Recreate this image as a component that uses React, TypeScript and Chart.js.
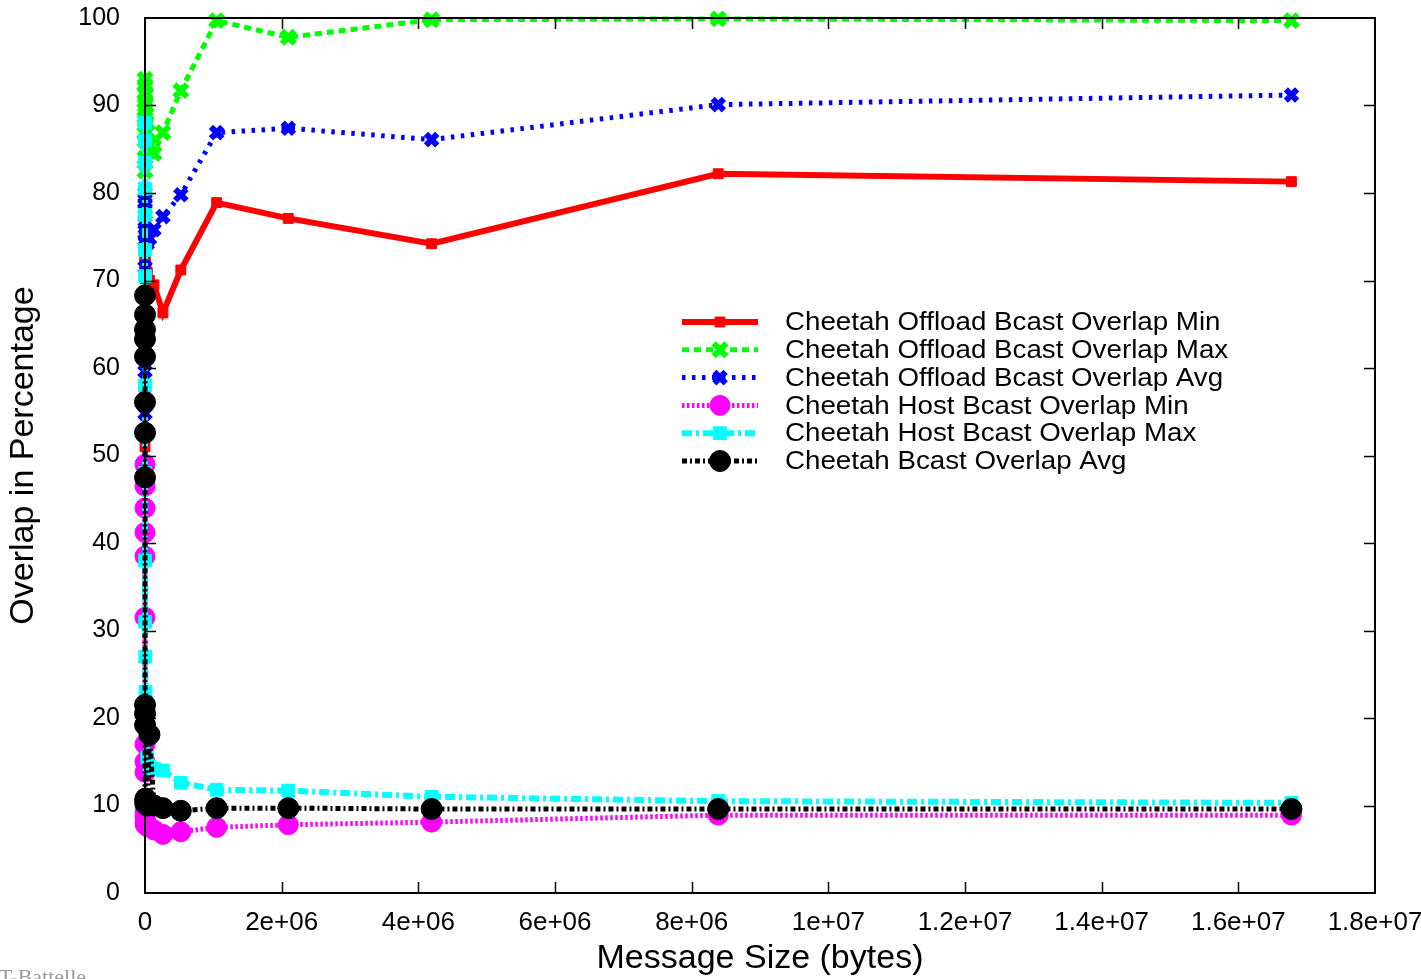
import React, { useEffect, useRef } from 'react';
import { Chart, registerables } from 'chart.js';

Chart.register(...registerables);

// ---------------- data ----------------
const messageSizes = [
  1, 2, 4, 8, 16, 32, 64, 128, 256, 512, 1024, 2048, 4096, 8192, 16384, 32768,
  65536, 131072, 262144, 524288, 1048576, 2097152, 4194304, 8388608, 16777216,
];

const offloadMin = [
  72.5, 71.8, 70.6, 57.5, 51.0, 63.0, 70.2, 71.0, 72.0, 71.5, 70.8, 72.8, 71.2,
  70.4, 71.6, 70.9, 70.0, 69.5, 66.3, 71.2, 78.9, 77.1, 74.2, 82.2, 81.3,
];

const offloadMax = [
  82.5, 84.0, 86.0, 88.5, 90.5, 92.3, 93.0, 91.5, 89.5, 87.8, 86.8, 88.2, 90.0,
  91.2, 89.0, 87.0, 85.5, 84.5, 86.9, 91.7, 99.7, 97.8, 99.8, 99.9, 99.7,
];

const offloadAvg = [
  54.8, 59.6, 64.0, 68.0, 71.5, 74.6, 76.5, 78.8, 80.0, 79.4, 78.2, 76.8, 75.2,
  74.3, 75.0, 74.2, 74.8, 75.8, 77.3, 79.8, 86.9, 87.4, 86.1, 90.1, 91.2,
];

const hostMin = [
  49.0, 46.5, 44.0, 41.2, 38.5, 31.5, 17.0, 15.0, 13.8, 9.2, 8.6, 8.0, 7.8, 8.2,
  8.0, 7.6, 7.5, 7.2, 6.7, 7.0, 7.5, 7.8, 8.1, 8.9, 8.9,
];

const hostMax = [
  88.0, 86.0, 83.5, 80.5, 77.5, 73.5, 70.5, 66.0, 58.0, 48.0, 38.0, 31.0, 27.0,
  23.0, 18.5, 15.5, 14.4, 14.2, 14.0, 12.6, 11.8, 11.7, 11.0, 10.5, 10.3,
];

const bcastAvg = [
  68.3, 66.1, 64.4, 63.3, 61.3, 56.1, 52.6, 47.5, 21.5, 20.5, 19.2, 10.6, 10.2,
  10.8, 10.3, 10.0, 18.1, 10.0, 9.7, 9.4, 9.7, 9.7, 9.6, 9.6, 9.6,
];

const seriesLabels = [
  'Cheetah Offload Bcast Overlap Min',
  'Cheetah Offload Bcast Overlap Max',
  'Cheetah Offload Bcast Overlap Avg',
  'Cheetah Host Bcast Overlap Min',
  'Cheetah Host Bcast Overlap Max',
  'Cheetah Bcast Overlap Avg',
];

const xTickLabels = [
  '0', '2e+06', '4e+06', '6e+06', '8e+06', '1e+07', '1.2e+07', '1.4e+07', '1.6e+07', '1.8e+07',
];
const yTickLabels = ['0', '10', '20', '30', '40', '50', '60', '70', '80', '90', '100'];

const xTitle = 'Message Size (bytes)';
const yTitle = 'Overlap in Percentage';
const footerText = 'UT-Battelle';

// ---------------- styles ----------------
const FONT = '"Liberation Sans", Arial, Helvetica, sans-serif';

type Marker = 'rect' | 'circle' | 'crossRot';
interface SeriesStyle {
  color: string;
  width: number;
  dash: number[];
  marker: Marker;
  radius: number;
  markerBorder: number;
}

const seriesStyles: SeriesStyle[] = [
  { color: '#ff0000', width: 6, dash: [], marker: 'rect', radius: 7, markerBorder: 1 },
  { color: '#00ff00', width: 5, dash: [7, 5], marker: 'crossRot', radius: 9, markerBorder: 6 },
  { color: '#0000ff', width: 5, dash: [3.5, 6.5], marker: 'crossRot', radius: 8, markerBorder: 6 },
  { color: '#ff00ff', width: 5, dash: [2.5, 2.5], marker: 'circle', radius: 10, markerBorder: 1 },
  { color: '#00ffff', width: 6, dash: [10, 4, 3, 4], marker: 'rect', radius: 9, markerBorder: 1 },
  { color: '#000000', width: 5, dash: [5, 3, 2, 3], marker: 'circle', radius: 10.5, markerBorder: 1 },
];

const seriesValues = [offloadMin, offloadMax, offloadAvg, hostMin, hostMax, bcastAvg];

function drawMarker(ctx: CanvasRenderingContext2D, s: SeriesStyle, x: number, y: number) {
  ctx.save();
  ctx.setLineDash([]);
  ctx.fillStyle = s.color;
  ctx.strokeStyle = s.color;
  ctx.lineWidth = s.markerBorder;
  ctx.beginPath();
  if (s.marker === 'rect') {
    const h = s.radius * Math.SQRT1_2;
    ctx.rect(x - h, y - h, 2 * h, 2 * h);
    ctx.fill();
    ctx.stroke();
  } else if (s.marker === 'circle') {
    ctx.arc(x, y, s.radius, 0, Math.PI * 2);
    ctx.fill();
    ctx.stroke();
  } else {
    const h = s.radius * Math.SQRT1_2;
    ctx.moveTo(x - h, y - h);
    ctx.lineTo(x + h, y + h);
    ctx.moveTo(x + h, y - h);
    ctx.lineTo(x - h, y + h);
    ctx.stroke();
  }
  ctx.restore();
}

const framePlugin = {
  id: 'gnuplotFrame',
  afterDatasetsDraw(chart: any) {
    const { ctx, chartArea } = chart;
    const { left, right, top, bottom } = chartArea;
    const xs = chart.scales.x;
    const ys = chart.scales.y;
    ctx.save();
    ctx.strokeStyle = '#000';
    ctx.lineWidth = 2;
    ctx.setLineDash([]);
    ctx.strokeRect(left, top, right - left, bottom - top);
    const tl = 11;
    ctx.lineWidth = 1.5;
    ctx.beginPath();
    xs.ticks.forEach((t: any) => {
      const px = Math.round(xs.getPixelForValue(t.value)) + 0.5;
      if (px <= left + 1 || px >= right - 1) return;
      ctx.moveTo(px, bottom);
      ctx.lineTo(px, bottom - tl);
      ctx.moveTo(px, top);
      ctx.lineTo(px, top + tl);
    });
    ys.ticks.forEach((t: any) => {
      const py = Math.round(ys.getPixelForValue(t.value)) + 0.5;
      if (py <= top + 1 || py >= bottom - 1) return;
      ctx.moveTo(left, py);
      ctx.lineTo(left + tl, py);
      ctx.moveTo(right, py);
      ctx.lineTo(right - tl, py);
    });
    ctx.stroke();
    ctx.restore();
  },
};

const legendPlugin = {
  id: 'gnuplotLegend',
  afterDraw(chart: any) {
    const { ctx } = chart;
    const x0 = 682;
    const x1 = 758;
    const xm = 720;
    const xt = 785;
    const y0 = 322;
    const dy = 27.8;
    ctx.save();
    seriesLabels.forEach((label, i) => {
      const s = seriesStyles[i];
      const y = y0 + i * dy;
      ctx.strokeStyle = s.color;
      ctx.lineWidth = s.width;
      ctx.setLineDash(s.dash);
      ctx.lineCap = 'butt';
      ctx.beginPath();
      ctx.moveTo(x0, y);
      ctx.lineTo(x1, y);
      ctx.stroke();
      drawMarker(ctx, s, xm, y);
      ctx.setLineDash([]);
      ctx.save();
      ctx.translate(xt, y + 1);
      ctx.scale(1.066, 1);
      ctx.fillStyle = '#000';
      ctx.font = `26px ${FONT}`;
      ctx.textAlign = 'left';
      ctx.textBaseline = 'middle';
      ctx.fillText(label, 0, 0);
      ctx.restore();
    });
    ctx.fillStyle = '#9a9a9a';
    ctx.font = '22px "Liberation Serif", "DejaVu Serif", serif';
    ctx.textAlign = 'left';
    ctx.textBaseline = 'alphabetic';
    ctx.fillText(footerText, -17, 984);
    ctx.restore();
  },
};

export default function App() {
  const canvasRef = useRef<HTMLCanvasElement | null>(null);

  useEffect(() => {
    document.body.style.margin = '0';
    document.body.style.overflow = 'hidden';
    const canvas = canvasRef.current;
    if (!canvas) return;

    const datasets = seriesLabels.map((label, i) => {
      const s = seriesStyles[i];
      return {
        label,
        data: messageSizes.map((x, j) => ({ x, y: seriesValues[i][j] })),
        borderColor: s.color,
        backgroundColor: s.color,
        borderWidth: s.width,
        borderDash: s.dash,
        pointStyle: s.marker,
        pointRadius: s.radius,
        pointBorderWidth: s.markerBorder,
        pointBackgroundColor: s.color,
        pointBorderColor: s.color,
        tension: 0,
        clip: false as any,
        order: seriesLabels.length - i,
      };
    });

    const chart = new Chart(canvas, {
      type: 'line',
      data: { datasets },
      options: {
        responsive: false,
        animation: false,
        events: [],
        layout: { padding: { top: 18, right: 46, left: 0, bottom: 0 } },
        plugins: { legend: { display: false }, tooltip: { enabled: false } },
        scales: {
          x: {
            type: 'linear',
            min: 0,
            max: 1.8e7,
            grid: { display: false },
            border: { display: false },
            ticks: {
              stepSize: 2e6,
              autoSkip: false,
              maxRotation: 0,
              padding: 6,
              color: '#000',
              font: { family: FONT, size: 26 },
              callback: (_v: any, i: number) => xTickLabels[i],
            },
            title: {
              display: true,
              text: xTitle,
              color: '#000',
              font: { family: FONT, size: 34 },
              padding: { top: 10.5, bottom: 0 },
            },
            afterFit: (s: any) => {
              s.height = 86;
              s.paddingLeft = 0;
              s.paddingRight = 0;
            },
          },
          y: {
            type: 'linear',
            min: 0,
            max: 100,
            grid: { display: false },
            border: { display: false },
            ticks: {
              stepSize: 10,
              padding: 17,
              color: '#000',
              font: { family: FONT, size: 25 },
              callback: (_v: any, i: number) => yTickLabels[i],
            },
            title: {
              display: true,
              text: yTitle,
              color: '#000',
              font: { family: FONT, size: 34 },
              padding: { top: 3.5, bottom: 0 },
            },
            afterFit: (s: any) => {
              s.width = 145;
              s.paddingTop = 0;
              s.paddingBottom = 0;
            },
          },
        },
      },
      plugins: [framePlugin, legendPlugin],
    });

    return () => chart.destroy();
  }, []);

  return (
    <div style={{ width: 1421, height: 979, position: 'relative', background: '#fff' }}>
      <canvas ref={canvasRef} width={1421} height={979} style={{ display: 'block' }} />
    </div>
  );
}
